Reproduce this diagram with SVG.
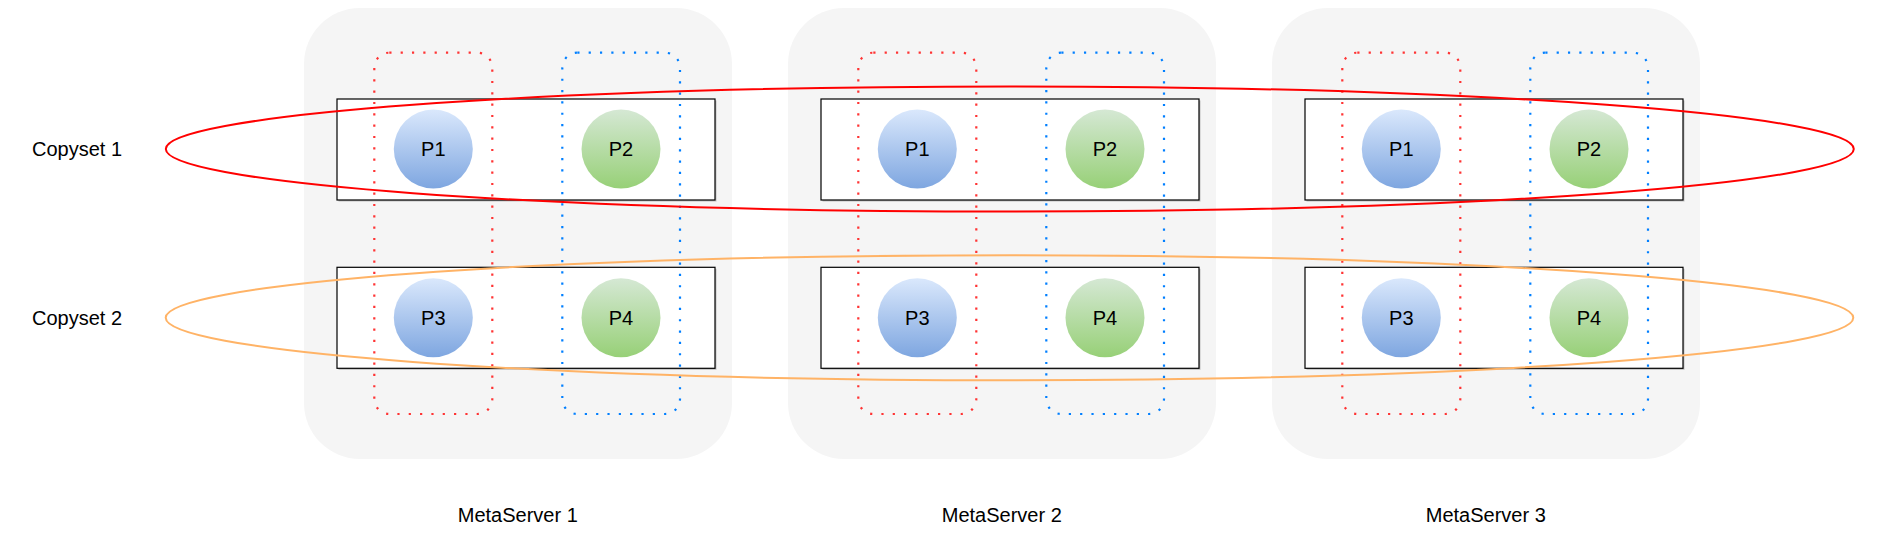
<svg xmlns="http://www.w3.org/2000/svg" width="1896" height="558" viewBox="0 0 1896 558">
<style>
text{font-family:"Liberation Sans",Arial,sans-serif;font-size:20px;fill:#000}
.srv{fill:#f5f5f5;stroke:none}
.box{fill:#fff;stroke:#000;stroke-width:1.2}
.shadow{fill:#000;opacity:0.22}
.dr{fill:none;stroke:#FF3333;stroke-width:2.2;stroke-dasharray:2.2 9.13}
.db{fill:none;stroke:#007FFF;stroke-width:2.2;stroke-dasharray:2.2 9.13}
.pb{fill:url(#gb)}
.pg{fill:url(#gg)}
.cs1{fill:none;stroke:#FF0000;stroke-width:2}
.cs2{fill:none;stroke:#FFB366;stroke-width:2}
</style>
<defs>
<linearGradient id="gb" x1="0" y1="0" x2="0" y2="1"><stop offset="0" stop-color="#dae8fc"/><stop offset="1" stop-color="#7ea6e0"/></linearGradient>
<linearGradient id="gg" x1="0" y1="0" x2="0" y2="1"><stop offset="0" stop-color="#d5e8d4"/><stop offset="1" stop-color="#97d077"/></linearGradient>
</defs>
<g id="metaserver1">
<rect class="srv" x="304" y="8" width="428" height="451" rx="56" ry="56"/>
<rect class="shadow" x="338.5" y="100.5" width="378" height="101"/>
<rect class="box" x="337" y="99" width="378" height="101"/>
<rect class="shadow" x="338.5" y="268.8" width="378" height="101"/>
<rect class="box" x="337" y="267.3" width="378" height="101"/>
<rect class="dr" x="374.3" y="52.7" width="118" height="361.3" rx="15" ry="15"/>
<rect class="db" x="562.3" y="52.7" width="117.7" height="361.3" rx="15" ry="15"/>
<g id="ms1-p1"><circle class="pb" cx="433.3" cy="149" r="39.5"/><text x="433.3" y="156.2" text-anchor="middle">P1</text></g>
<g id="ms1-p2"><circle class="pg" cx="621" cy="149" r="39.5"/><text x="621" y="156.2" text-anchor="middle">P2</text></g>
<g id="ms1-p3"><circle class="pb" cx="433.3" cy="317.7" r="39.5"/><text x="433.3" y="324.9" text-anchor="middle">P3</text></g>
<g id="ms1-p4"><circle class="pg" cx="621" cy="317.7" r="39.5"/><text x="621" y="324.9" text-anchor="middle">P4</text></g>
<text x="517.8" y="522" text-anchor="middle">MetaServer 1</text>
</g>
<g id="metaserver2" transform="translate(484 0)">
<rect class="srv" x="304" y="8" width="428" height="451" rx="56" ry="56"/>
<rect class="shadow" x="338.5" y="100.5" width="378" height="101"/>
<rect class="box" x="337" y="99" width="378" height="101"/>
<rect class="shadow" x="338.5" y="268.8" width="378" height="101"/>
<rect class="box" x="337" y="267.3" width="378" height="101"/>
<rect class="dr" x="374.3" y="52.7" width="118" height="361.3" rx="15" ry="15"/>
<rect class="db" x="562.3" y="52.7" width="117.7" height="361.3" rx="15" ry="15"/>
<g id="ms2-p1"><circle class="pb" cx="433.3" cy="149" r="39.5"/><text x="433.3" y="156.2" text-anchor="middle">P1</text></g>
<g id="ms2-p2"><circle class="pg" cx="621" cy="149" r="39.5"/><text x="621" y="156.2" text-anchor="middle">P2</text></g>
<g id="ms2-p3"><circle class="pb" cx="433.3" cy="317.7" r="39.5"/><text x="433.3" y="324.9" text-anchor="middle">P3</text></g>
<g id="ms2-p4"><circle class="pg" cx="621" cy="317.7" r="39.5"/><text x="621" y="324.9" text-anchor="middle">P4</text></g>
<text x="517.8" y="522" text-anchor="middle">MetaServer 2</text>
</g>
<g id="metaserver3" transform="translate(968 0)">
<rect class="srv" x="304" y="8" width="428" height="451" rx="56" ry="56"/>
<rect class="shadow" x="338.5" y="100.5" width="378" height="101"/>
<rect class="box" x="337" y="99" width="378" height="101"/>
<rect class="shadow" x="338.5" y="268.8" width="378" height="101"/>
<rect class="box" x="337" y="267.3" width="378" height="101"/>
<rect class="dr" x="374.3" y="52.7" width="118" height="361.3" rx="15" ry="15"/>
<rect class="db" x="562.3" y="52.7" width="117.7" height="361.3" rx="15" ry="15"/>
<g id="ms3-p1"><circle class="pb" cx="433.3" cy="149" r="39.5"/><text x="433.3" y="156.2" text-anchor="middle">P1</text></g>
<g id="ms3-p2"><circle class="pg" cx="621" cy="149" r="39.5"/><text x="621" y="156.2" text-anchor="middle">P2</text></g>
<g id="ms3-p3"><circle class="pb" cx="433.3" cy="317.7" r="39.5"/><text x="433.3" y="324.9" text-anchor="middle">P3</text></g>
<g id="ms3-p4"><circle class="pg" cx="621" cy="317.7" r="39.5"/><text x="621" y="324.9" text-anchor="middle">P4</text></g>
<text x="517.8" y="522" text-anchor="middle">MetaServer 3</text>
</g>
<g id="copyset1">
<text x="32" y="156.3">Copyset 1</text>
<ellipse class="cs1" cx="1009.8" cy="149" rx="844" ry="62.5"/>
</g>
<g id="copyset2">
<text x="32" y="325">Copyset 2</text>
<ellipse class="cs2" cx="1009.5" cy="317.7" rx="843.8" ry="62.5"/>
</g>
</svg>
